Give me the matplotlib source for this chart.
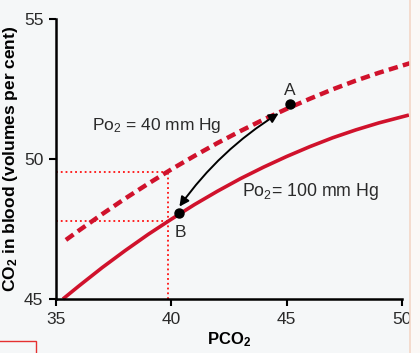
import matplotlib
matplotlib.use("Agg")
import matplotlib.pyplot as plt
from matplotlib.patches import Rectangle
from matplotlib.lines import Line2D

# (PCO2 in mm Hg, CO2 in volumes per cent)
pco2_high = [35.3, 36, 37, 38, 39, 40, 41, 42, 43, 44, 45, 46, 47, 48, 49, 50.3]
co2_high = [45.0, 45.47, 46.12, 46.73, 47.31, 47.85, 48.37, 48.85, 49.30,
            49.71, 50.09, 50.44, 50.76, 51.04, 51.29, 51.57]

pco2_low = [35.43, 36, 37, 38, 39, 40, 41, 42, 43, 44, 45, 46, 47, 48, 49, 50.34]
co2_low = [47.11, 47.45, 48.03, 48.59, 49.12, 49.63, 50.11, 50.57, 51.00,
           51.41, 51.79, 52.15, 52.49, 52.80, 53.08, 53.42]

point_a = (45.15, 51.95)
point_b = (40.32, 48.06)
guide_x = 39.84
guide_y = [47.8, 49.52]

x_ticks = [35, 40, 45, 50]
y_ticks = [45, 50, 55]

bg = '#f5f7f8'
red = '#d0122c'
dot_red = '#ff1010'
txt = '#2a2a2a'

plt.rcParams['font.family'] = ['Liberation Sans', 'DejaVu Sans']

fig = plt.figure(figsize=(4.2, 3.53), dpi=100, facecolor=bg)
ax = fig.add_axes([56 / 420, 1 - 299 / 353, 346 / 420, 280 / 353])
ax.set_facecolor(bg)

# dotted guide lines
ax.plot([35, guide_x], [guide_y[0], guide_y[0]], ':', color=dot_red, lw=1.3)
ax.plot([35, guide_x], [guide_y[1], guide_y[1]], ':', color=dot_red, lw=1.3)
ax.plot([guide_x, guide_x], [45, guide_y[1]], ':', color=dot_red, lw=1.3)

ax.plot(pco2_high, co2_high, color=red, lw=2.6, clip_on=False,
        solid_capstyle='butt')
ax.plot(pco2_low, co2_low, color=red, lw=3.2, clip_on=False,
        dashes=(2.1, 1.2))

# A <-> B
ax.annotate('', xy=(44.65, 51.63), xytext=(40.35, 48.30),
            arrowprops=dict(arrowstyle='<|-|>', color='black', lw=1.4,
                            mutation_scale=14, shrinkA=0, shrinkB=0,
                            connectionstyle='arc3,rad=-0.1'))
ax.plot(*point_a, 'o', color='black', ms=6.5, zorder=5)
ax.plot(*point_b, 'o', color='black', ms=6.5, zorder=5)

ax.text(45.12, 52.46, 'A', fontsize=12.5, ha='center', va='center', color=txt)
ax.text(40.4, 47.39, 'B', fontsize=12.5, ha='center', va='center', color=txt)

ax.text(36.55, 51.2, r'P$\mathregular{o_2}$ = 40 mm Hg', fontsize=12.5,
        va='center', color=txt)
ax.text(43.05, 48.85, r'P$\mathregular{o_2}$= 100 mm Hg', fontsize=12.8,
        va='center', color=txt)

ax.set_xlim(35, 50)
ax.set_ylim(45, 55)
ax.set_xticks(x_ticks)
ax.set_yticks(y_ticks)
ax.tick_params(labelsize=12.5, width=1.5, length=5, direction='out', color='black',
               labelcolor=txt)
ax.tick_params(axis='x', pad=4)
ax.tick_params(axis='y', pad=4)
for side in ['top', 'right']:
    ax.spines[side].set_visible(False)
for side in ['left', 'bottom']:
    ax.spines[side].set_linewidth(1.8)

ax.set_xlabel(r'PCO$\mathregular{_2}$', fontsize=12, fontweight='bold', labelpad=3)
ax.set_ylabel(r'CO$\mathregular{_2}$ in blood (volumes per cent)', fontsize=12.5,
              fontweight='bold', labelpad=3)

# cropped edges of the source picture
fig.patches.append(Rectangle((409.5 / 420, 0), 1, 1, transform=fig.transFigure,
                             facecolor='#fbf8f6', edgecolor='none', zorder=10))
fig.lines.append(Line2D([409.5 / 420, 409.5 / 420], [0, 1], transform=fig.transFigure,
                        color='#f3d6c6', lw=1.2, zorder=11))
fig.patches.append(Rectangle((-0.01, -0.01), 36 / 420 + 0.01, 1 - 341 / 353 + 0.01,
                             transform=fig.transFigure, facecolor='none',
                             edgecolor='#e53030', lw=1.0, zorder=11))

fig.savefig('out.png', dpi=100, facecolor=bg)
